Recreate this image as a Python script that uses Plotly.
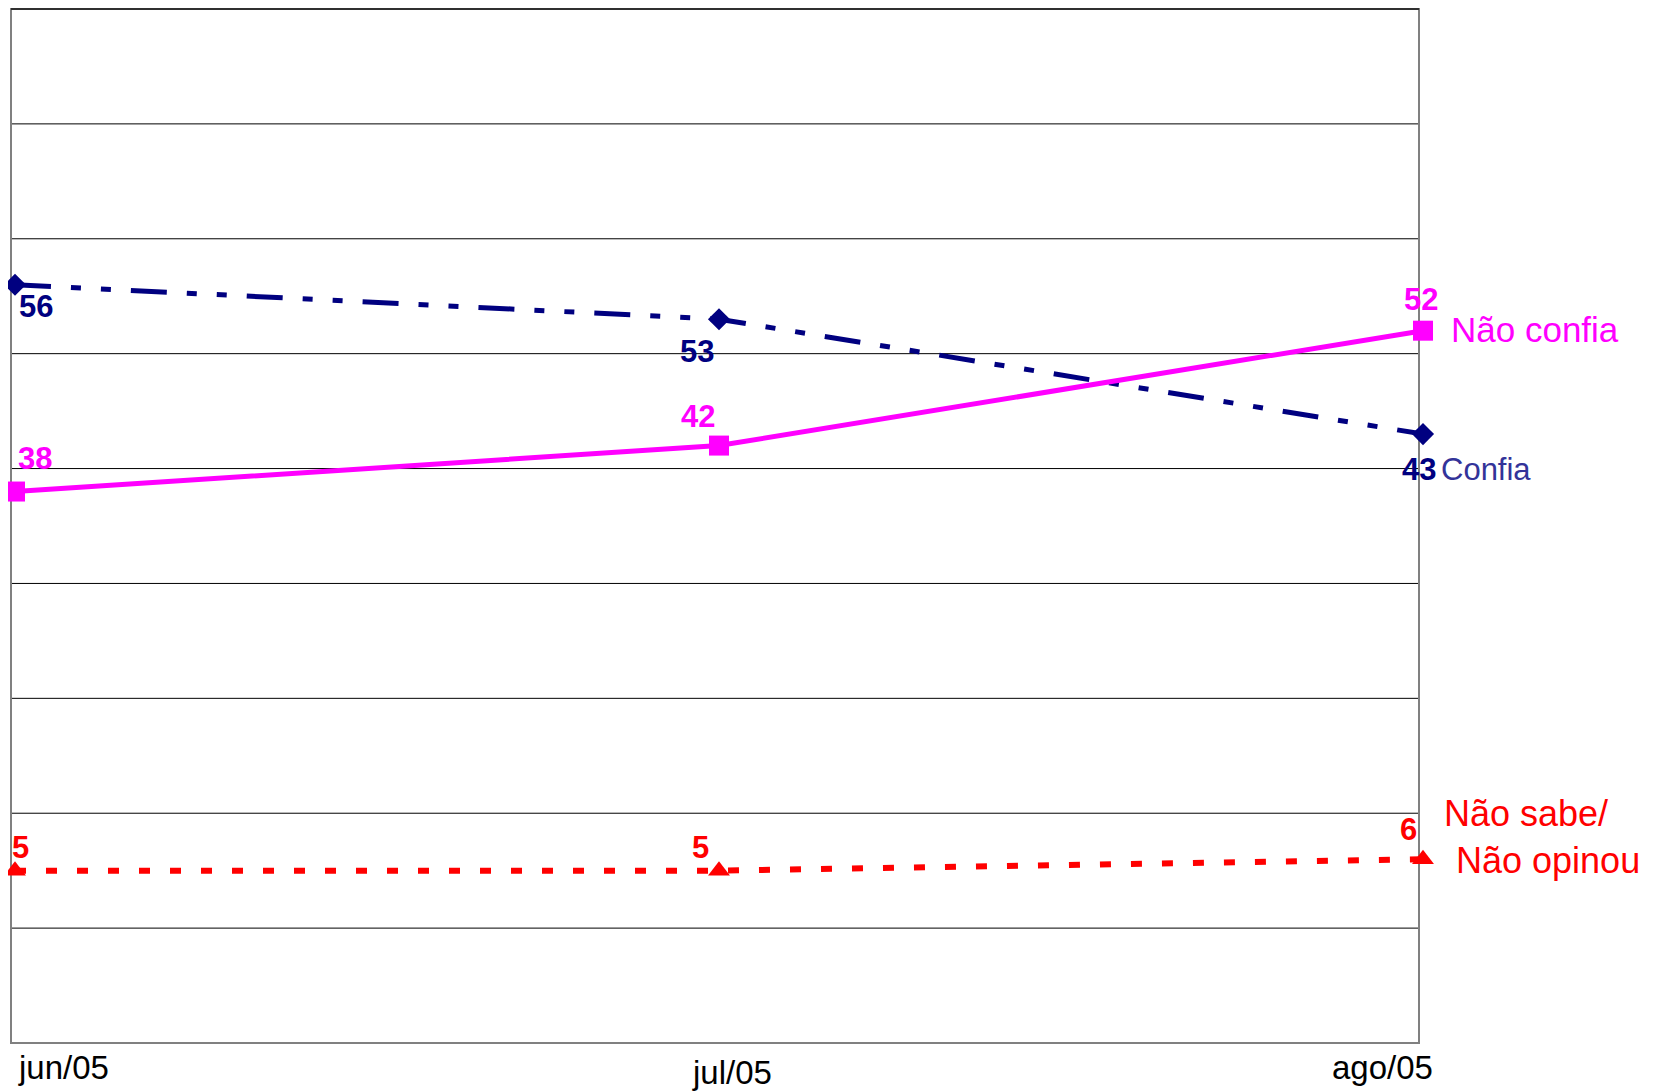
import plotly.graph_objs as go

# dados
meses = ["jun/05", "jul/05", "ago/05"]
confia = [56, 53, 43]
nao_confia = [38, 42, 52]
nao_sabe = [5, 5, 6]

FONT = "Liberation Sans"
NAVY = "#000080"
MAGENTA = "#FF00FF"
RED = "#FF0000"

x = list(range(len(meses)))

fig = go.Figure()

fig.add_trace(go.Scatter(
    x=x, y=confia, name="Confia", mode="lines+markers",
    line=dict(color=NAVY, width=5, dash="36px,20px,10px,20px,10px,20px"),
    marker=dict(symbol="diamond", size=17, color=NAVY),
    cliponaxis=False
))
fig.add_trace(go.Scatter(
    x=x, y=nao_sabe, name="Não sabe/Não opinou", mode="lines+markers",
    line=dict(color=RED, width=6, dash="11px,20px"),
    marker=dict(symbol="triangle-up", size=19, color=RED),
    cliponaxis=False
))
fig.add_trace(go.Scatter(
    x=x, y=nao_confia, name="Não confia", mode="lines+markers",
    line=dict(color=MAGENTA, width=5),
    marker=dict(symbol="square", size=20, color=MAGENTA),
    cliponaxis=False
))

annotations = []

def num(xv, yv, txt, color, dx, dy):
    annotations.append(dict(
        x=xv, y=yv, xref="x", yref="y", text=str(txt), showarrow=False,
        xshift=dx, yshift=dy,
        font=dict(family=FONT, size=31, color=color, weight="bold")
    ))

# rótulos de valores
off_confia = [(21, -22), (-22, -32), (-4, -35)]
off_nconf = [(20, 33), (-21, 29), (-2, 31)]
off_ns = [(5, 23), (-19, 23), (-15, 30)]
for i in x:
    num(i, confia[i], confia[i], NAVY, *off_confia[i])
    num(i, nao_confia[i], nao_confia[i], MAGENTA, *off_nconf[i])
    num(i, nao_sabe[i], nao_sabe[i], RED, *off_ns[i])

def name(xv, yv, txt, color, dx, dy, size):
    annotations.append(dict(
        x=xv, y=yv, xref="x", yref="y", text=txt, showarrow=False,
        xanchor="left", xshift=dx, yshift=dy,
        font=dict(family=FONT, size=size, color=color)
    ))

last = x[-1]
name(last, confia[-1], "Confia", "#333399", 16, -35, 31)
name(last, nao_confia[-1], "Não confia", MAGENTA, 26, 1, 35)
name(last, nao_sabe[-1], "Não sabe/", RED, 19, 46, 36)
name(last, nao_sabe[-1], "Não opinou", RED, 31, -1, 36)

# rótulos do eixo x
label_px = [(48, -24), (13, -29), (-41, -24)]
for i, m in enumerate(meses):
    annotations.append(dict(
        x=i, y=0, xref="x", yref="paper", text=m, showarrow=False,
        yanchor="middle", xshift=label_px[i][0], yshift=label_px[i][1],
        font=dict(family=FONT, size=33, color="#000000")
    ))

# geometria (px da figura): pontos em 7 e 1415, moldura em 3 e 1411
L, R = 1, 1421
ppu = (1415 - 7) / 2
x_range = [-(7 - L) / ppu, 2 + (R - 1415) / ppu]
fx0 = (3 - L) / (R - L)
fx1 = (1411 - L) / (R - L)

shapes = []
for g in range(0, 80, 10):
    shapes.append(dict(type="line", xref="paper", yref="y",
                       x0=fx0, x1=fx1, y0=g, y1=g,
                       line=dict(color="#000000", width=1), layer="below"))
shapes.append(dict(type="rect", xref="paper", yref="paper",
                   x0=fx0, x1=fx1, y0=0, y1=1,
                   line=dict(color="#808080", width=2), layer="below"))
shapes.append(dict(type="line", xref="paper", yref="paper",
                   x0=fx0, x1=fx1, y0=1, y1=1,
                   line=dict(color="#303030", width=2), layer="below"))

fig.update_layout(
    width=1660, height=1092,
    margin=dict(l=L, r=1660 - R, t=1, b=57),
    plot_bgcolor="white", paper_bgcolor="white",
    showlegend=False,
    annotations=annotations,
    shapes=shapes,
    xaxis=dict(range=x_range, showgrid=False, zeroline=False,
               showticklabels=False, ticks="", showline=False),
    yaxis=dict(range=[-10, 80], showgrid=False, zeroline=False,
               showticklabels=False, ticks="", showline=False),
)

fig.write_html("out.html")
